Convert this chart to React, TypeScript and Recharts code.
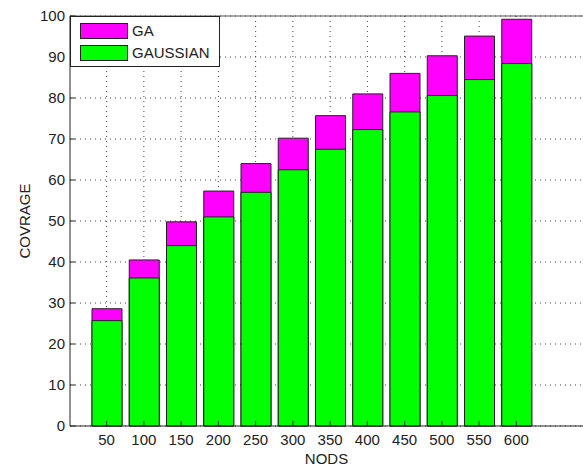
import React from 'react';
import { BarChart, Bar, XAxis, YAxis, CartesianGrid, Legend, Label, ReferenceLine } from 'recharts';

// values
const nods = [50, 100, 150, 200, 250, 300, 350, 400, 450, 500, 550, 600];
const ga = [28.6, 40.5, 49.8, 57.3, 64.0, 70.2, 75.7, 81.0, 86.0, 90.3, 95.1, 99.2];
const gaussian = [25.7, 36.1, 44.0, 51.0, 57.0, 62.5, 67.5, 72.3, 76.6, 80.6, 84.5, 88.4];
const yTicks = [0, 10, 20, 30, 40, 50, 60, 70, 80, 90, 100];

const series = [
  { key: 'ga', name: 'GA', color: '#FF00FF' },
  { key: 'gaussian', name: 'GAUSSIAN', color: '#00FF00' },
];

const data = nods.map((n, i) => ({ nods: n, ga: ga[i], gaussian: gaussian[i] }));

const FONT = '"Liberation Sans", Arial, sans-serif';
const tickStyle = { fontSize: 15, fill: '#222', fontFamily: FONT };

function LegendBox() {
  return (
    <div
      style={{
        width: 150,
        height: 51,
        border: '1px solid #222',
        background: '#fff',
        fontFamily: FONT,
        fontSize: 15,
        color: '#222',
        boxSizing: 'border-box',
        paddingTop: 5,
        paddingLeft: 9,
      }}
    >
      {series.map((s) => (
        <div key={s.key} style={{ display: 'flex', alignItems: 'center', height: 17, marginBottom: 5 }}>
          <div style={{ width: 48, height: 16, background: s.color, border: '1px solid #222', boxSizing: 'border-box' }} />
          <span style={{ marginLeft: 4, lineHeight: '17px' }}>{s.name}</span>
        </div>
      ))}
    </div>
  );
}

function YTitle(props: any) {
  const vb = props.viewBox;
  const cy = vb.y + vb.height / 2;
  return (
    <text x={24} y={cy} transform={`rotate(-90 24 ${cy})`} textAnchor="middle" dominantBaseline="central"
      style={{ fontSize: 15, fill: '#222', fontFamily: FONT }}>
      COVRAGE
    </text>
  );
}

export default function App() {
  return (
    <div style={{ position: 'absolute', left: 0, top: 0, background: '#fff' }}>
      <BarChart width={583} height={473} data={data} margin={{ top: 16, right: 0, bottom: 17, left: 0 }} barGap={-30}>
        <CartesianGrid stroke="#444" strokeDasharray="1 4" syncWithTicks />
        <XAxis
          dataKey="nods"
          interval={0}
          padding={{ left: 18, right: 48 }}
          tickSize={-5}
          tickMargin={13}
          height={30}
          tick={tickStyle}
          tickLine={{ stroke: '#222' }}
          axisLine={{ stroke: '#222' }}
        >
          <Label value="NODS" position="bottom" offset={-3} style={{ fontSize: 15, fill: '#222', fontFamily: FONT }} />
        </XAxis>
        <XAxis
          xAxisId="top"
          orientation="top"
          dataKey="nods"
          interval={0}
          padding={{ left: 18, right: 48 }}
          tickSize={-5}
          height={0}
          tickFormatter={() => ''}
          tickLine={{ stroke: '#444' }}
          axisLine={{ stroke: '#555' }}
        />
        <YAxis
          domain={[0, 100]}
          ticks={yTicks}
          width={70}
          tickSize={-5}
          tickMargin={10}
          tick={tickStyle}
          tickLine={{ stroke: '#222' }}
          axisLine={{ stroke: '#222' }}
        >
          <Label content={YTitle} />
        </YAxis>
        <Legend
          layout="horizontal"
          verticalAlign="middle"
          align="center"
          content={() => <LegendBox />}
          wrapperStyle={{ left: 70, top: 16, width: 150, height: 51 }}
        />
        {series.map((s) => (
          <Bar
            key={s.key}
            dataKey={s.key}
            name={s.name}
            fill={s.color}
            stroke="#222"
            strokeWidth={1}
            barSize={30}
            isAnimationActive={false}
          />
        ))}
        <ReferenceLine y={100} stroke="#555" />
      </BarChart>
    </div>
  );
}
